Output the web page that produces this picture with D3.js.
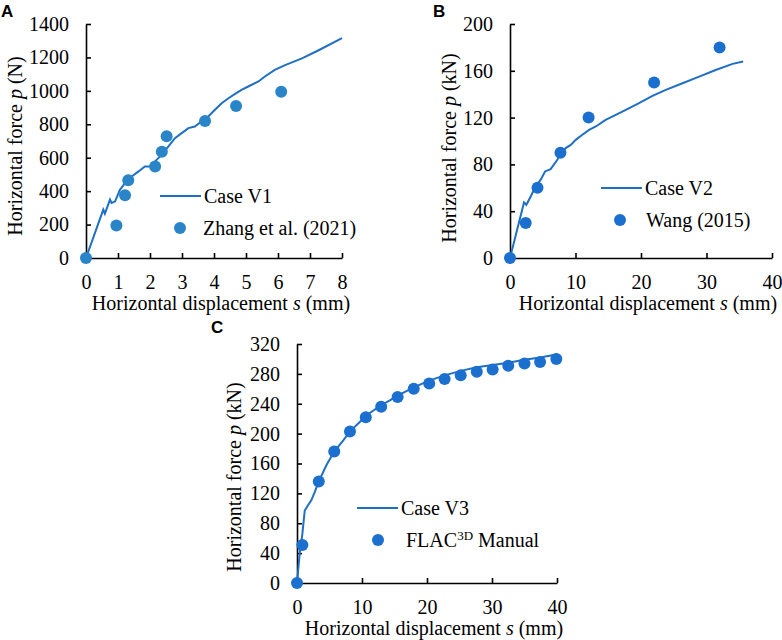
<!DOCTYPE html>
<html>
<head>
<meta charset="utf-8">
<script src="https://cdn.jsdelivr.net/npm/d3@7"></script>
<style>
  body { margin: 0; background: #fff; }
  svg { display: block; }
  text { font-family: "Liberation Serif", "Times New Roman", serif; }
</style>
</head>
<body>
<svg width="782" height="640"></svg>
<script>
// panel A
const v1Disp = [0, 0.54, 0.59, 0.75, 0.80, 0.91, 1.06, 1.22, 1.43, 1.64, 1.84, 2.0, 2.16, 2.36, 2.57, 2.78, 2.99, 3.2, 3.4, 3.61, 3.82, 4.03, 4.24, 4.45, 4.66, 4.86, 5.07, 5.39, 5.59, 5.9, 6.22, 6.75, 7.27, 8.0];
const v1Force = [0, 289, 265, 349, 329, 339, 408, 448, 488, 518, 548, 548, 578, 617, 667, 717, 747, 777, 787, 817, 847, 887, 926, 956, 982, 1006, 1026, 1056, 1086, 1125, 1154, 1194, 1243, 1315];
const zhangDisp = [0, 0.95, 1.22, 1.32, 2.16, 2.37, 2.52, 3.72, 4.69, 6.1];
const zhangForce = [0, 195, 375, 465, 548, 635, 728, 820, 910, 995];
const ticksAx = [0, 1, 2, 3, 4, 5, 6, 7, 8];
const ticksAy = [0, 200, 400, 600, 800, 1000, 1200, 1400];

// panel B
const v2Disp = [0, 2.14, 2.5, 3.16, 3.92, 4.69, 5.35, 6.2, 7.23, 7.74, 8.5, 9.27, 10.04, 11.05, 12.07, 13.1, 14.6, 16.15, 17.68, 19.7, 21.75, 23.79, 26.34, 28.88, 31.4, 33.98, 35.6];
const v2Force = [0, 47.5, 45.5, 52.6, 61.2, 66.9, 74, 76, 83.9, 89.6, 93.9, 96.7, 101, 105.3, 109.5, 112.4, 118, 122.3, 126.6, 132.3, 138.5, 143.7, 149.4, 155, 160.7, 165.9, 168];
const wangDisp = [0, 2.4, 4.2, 7.7, 12, 22, 32];
const wangForce = [0, 30, 60, 90, 120, 150, 180];
const ticksBx = [0, 10, 20, 30, 40];
const ticksBy = [0, 40, 80, 120, 160, 200];

// panel C
const v3Disp = [0, 0.41, 0.83, 1.19, 1.7, 2.22, 2.74, 3.35, 4.54, 5.73, 7.12, 8.15, 9.7, 11.25, 12.95, 14.35, 15.48, 17.96, 20.34, 22.71, 25.19, 27.66, 30.1, 32.5, 35, 37.4, 39.9];
const v3Force = [0, 39, 66, 97, 104, 111, 122, 136, 158, 176, 191, 203, 216, 228, 238, 245, 251, 262, 271, 278, 284, 289, 292, 295, 299, 302, 306];
const flacDisp = [0, 0.83, 3.35, 5.73, 8.15, 10.58, 12.95, 15.48, 17.96, 20.34, 22.71, 25.19, 27.66, 30.1, 32.5, 35, 37.4, 39.9];
const flacForce = [0, 51, 136, 176, 203, 222, 236, 249, 260, 267, 273, 278, 283, 286, 291, 294, 296, 300];
const ticksCx = [0, 10, 20, 30, 40];
const ticksCy = [0, 40, 80, 120, 160, 200, 240, 280, 320];

const svg = d3.select('svg');
const serif = '"Liberation Serif", "Times New Roman", serif';
const lineBlue = '#1f6fc5';

const zip = (xs, ys) => xs.map((x, i) => [x, ys[i]]);

let drawPanel = (p) => {
    const x = d3.scaleLinear().domain(p.xDomain).range(p.xRange);
    const y = d3.scaleLinear().domain(p.yDomain).range(p.yRange);
    const g = svg.append('g');

    const xAxis = g.append('g')
        .attr('transform', `translate(0,${p.yRange[0]})`)
        .call(d3.axisBottom(x).tickValues(p.xTicks).tickFormat(d3.format('d'))
            .tickSizeInner(-5).tickSizeOuter(0).tickPadding(17));
    const yAxis = g.append('g')
        .attr('transform', `translate(${p.xRange[0]},0)`)
        .call(d3.axisLeft(y).tickValues(p.yTicks).tickFormat(d3.format('d'))
            .tickSizeInner(-5).tickSizeOuter(0).tickPadding(17));
    [xAxis, yAxis].forEach(a => {
        a.attr('font-family', serif).attr('font-size', 20);
        a.selectAll('path, line').attr('stroke', '#000').attr('stroke-width', 1.6);
        a.selectAll('text').attr('fill', '#000');
    });

    const line = d3.line().x(d => x(d[0])).y(d => y(d[1]));
    g.append('path')
        .datum(zip(p.lineX, p.lineY))
        .attr('d', line)
        .attr('fill', 'none')
        .attr('stroke', lineBlue)
        .attr('stroke-width', 2);

    g.selectAll('circle.pt')
        .data(zip(p.ptX, p.ptY))
        .enter()
        .append('circle')
        .attr('class', 'pt')
        .attr('cx', d => x(d[0]))
        .attr('cy', d => y(d[1]))
        .attr('r', 6)
        .attr('fill', p.ptColor);

    // axis titles
    const xt = g.append('text')
        .attr('x', (p.xRange[0] + p.xRange[1]) / 2 + 7)
        .attr('y', p.yRange[0] + 52)
        .attr('text-anchor', 'middle')
        .attr('font-family', serif).attr('font-size', 20);
    xt.append('tspan').text('Horizontal displacement ');
    xt.append('tspan').attr('font-style', 'italic').text('s');
    xt.append('tspan').text(' (mm)');

    const yt = g.append('text')
        .attr('transform', `translate(${p.yTitleX},${p.yTitleY}) rotate(-90)`)
        .attr('text-anchor', 'middle')
        .attr('font-family', serif).attr('font-size', 20);
    yt.append('tspan').text('Horizontal force ');
    yt.append('tspan').attr('font-style', 'italic').text('p');
    yt.append('tspan').text(` (${p.unit})`);

    // panel letter
    g.append('text')
        .attr('x', p.letterPos[0]).attr('y', p.letterPos[1])
        .style('font-family', '"Liberation Sans", Arial, sans-serif')
        .attr('font-weight', 'bold').attr('font-size', 17)
        .text(p.letter);

    // legend
    const lg = g.append('g').attr('transform', `translate(${p.legend[0]},${p.legend[1]})`)
        .attr('font-family', serif).attr('font-size', 20);
    lg.append('line').attr('x1', 0).attr('x2', 41).attr('y1', 0).attr('y2', 0)
        .attr('stroke', lineBlue).attr('stroke-width', 2);
    lg.append('text').attr('x', 44).attr('y', 7).text(p.lineName);
    lg.append('circle').attr('cx', p.legendDot[0]).attr('cy', p.legendDot[1]).attr('r', 6).attr('fill', p.ptColor);
    const pt = lg.append('text').attr('x', p.legendDot[2]).attr('y', p.legendDot[1] + 7);
    p.ptName(pt);
};

drawPanel({
    xDomain: [0, 8], xRange: [86, 342], yDomain: [0, 1400], yRange: [258, 24],
    xTicks: ticksAx, yTicks: ticksAy,
    lineX: v1Disp, lineY: v1Force, ptX: zhangDisp, ptY: zhangForce, ptColor: '#2a85c8',
    unit: 'N', yTitleX: 22, yTitleY: 146,
    letter: 'A', letterPos: [1, 17],
    legend: [160, 196], lineName: 'Case V1',
    legendDot: [20, 32, 43],
    ptName: t => t.text('Zhang et al. (2021)')
});

drawPanel({
    xDomain: [0, 40], xRange: [510, 772], yDomain: [0, 200], yRange: [258, 24],
    xTicks: ticksBx, yTicks: ticksBy,
    lineX: v2Disp, lineY: v2Force, ptX: wangDisp, ptY: wangForce, ptColor: '#1b6fce',
    unit: 'kN', yTitleX: 456, yTitleY: 148,
    letter: 'B', letterPos: [433, 17],
    legend: [601, 188], lineName: 'Case V2',
    legendDot: [19, 32, 45],
    ptName: t => t.text('Wang (2015)')
});

drawPanel({
    xDomain: [0, 40], xRange: [297, 557], yDomain: [0, 320], yRange: [583, 344],
    xTicks: ticksCx, yTicks: ticksCy,
    lineX: v3Disp, lineY: v3Force, ptX: flacDisp, ptY: flacForce, ptColor: '#1b6fce',
    unit: 'kN', yTitleX: 241, yTitleY: 477,
    letter: 'C', letterPos: [211, 333],
    legend: [357, 508], lineName: 'Case V3',
    legendDot: [21, 32, 49],
    ptName: t => {
        t.append('tspan').text('FLAC');
        t.append('tspan').attr('dy', -7).attr('font-size', 13).text('3D');
        t.append('tspan').attr('dy', 7).text(' Manual');
    }
});
</script>
</body>
</html>
